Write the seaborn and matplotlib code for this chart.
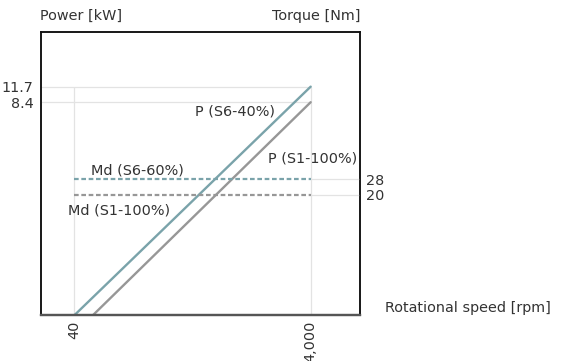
import numpy as np
import pandas as pd
import matplotlib
matplotlib.use("Agg")
import matplotlib.pyplot as plt
import seaborn as sns

# ---- data ----
speed_ticks = [40, 4000]
speed_tick_labels = ["40", "4,000"]

p_s6_speed = [40, 4000]
p_s6_power = [0.0, 11.7]
p_s1_speed = [350, 4000]
p_s1_power = [0.0, 8.4]

md_s6_speed = [40, 4000]
md_s6_torque = [28, 28]
md_s1_speed = [40, 4000]
md_s1_torque = [20, 20]

power_ticks = [11.7, 8.4]
power_tick_labels = ["11.7", "8.4"]
torque_ticks = [28, 20]
torque_tick_labels = ["28", "20"]

series_labels = ["P (S6-40%)", "P (S1-100%)", "Md (S6-60%)", "Md (S1-100%)"]

# ---- style ----
sns.set_theme(style="white")
plt.rcParams["font.family"] = ["DejaVu Sans"]
TXT = "#333333"
TEAL = "#7AA3AA"
GREY = "#979797"
GRID = "#e3e3e3"
FS = 10.4

fig = plt.figure(figsize=(5.67, 3.61), dpi=100)
ax = fig.add_axes([40.7 / 567, (361 - 315.3) / 361, 319.3 / 567, 283 / 361])

# schematic (piecewise) power scale
anch_v = [0.0, 8.4, 11.7, 15.0]
anch_p = [0.0, 0.753, 0.808, 1.0]
fwd = lambda v: np.interp(v, anch_v, anch_p)
inv = lambda p: np.interp(p, anch_p, anch_v)
ax.set_yscale("function", functions=(fwd, inv))
ax.set_xlim(-523, 4826)
ax.set_ylim(0, 15.0)

ax2 = ax.twinx()
ax2.set_ylim(-42.4, 103.8)

# reference lines
ax.vlines(speed_ticks, 0, max(power_ticks), color=GRID, lw=0.9, zorder=0)
ax.hlines(power_ticks, -523, max(speed_ticks), color=GRID, lw=0.9, zorder=0)
ax2.hlines(torque_ticks, max(speed_ticks), 4826, color=GRID, lw=0.9, zorder=0)

df_p6 = pd.DataFrame({"speed": p_s6_speed, "power": p_s6_power})
df_p1 = pd.DataFrame({"speed": p_s1_speed, "power": p_s1_power})
sns.lineplot(data=df_p6, x="speed", y="power", ax=ax, color=TEAL, lw=1.7)
sns.lineplot(data=df_p1, x="speed", y="power", ax=ax, color=GREY, lw=1.7)

df_m6 = pd.DataFrame({"speed": md_s6_speed, "torque": md_s6_torque})
df_m1 = pd.DataFrame({"speed": md_s1_speed, "torque": md_s1_torque})
sns.lineplot(data=df_m6, x="speed", y="torque", ax=ax2, color=TEAL, lw=1.6,
             linestyle=(0, (2.1, 1.2)))
sns.lineplot(data=df_m1, x="speed", y="torque", ax=ax2, color=GREY, lw=1.6,
             linestyle=(0, (2.1, 1.2)))

# ticks
ax.set_xticks(speed_ticks)
ax.set_xticklabels(speed_tick_labels, rotation=90, fontsize=FS, color=TXT)
ax.set_yticks(power_ticks)
ax.set_yticklabels(power_tick_labels, fontsize=FS, color=TXT)
ax.yaxis.set_minor_locator(matplotlib.ticker.NullLocator())
ax2.set_yticks(torque_ticks)
ax2.set_yticklabels(torque_tick_labels, fontsize=FS, color=TXT)
for a in (ax, ax2):
    a.tick_params(length=0, pad=4)
    a.set_xlabel("")
    a.set_ylabel("")
ax.tick_params(axis="y", pad=5, labelleft=True, left=False)
ax.tick_params(axis="x", pad=4, bottom=False)

for a in (ax, ax2):
    for s in a.spines.values():
        s.set_color("#111111")
        s.set_linewidth(1.1)
    a.spines["bottom"].set_color("#555555")
    a.spines["bottom"].set_linewidth(1.6)

# series labels
ax.text(0.734, 0.719, series_labels[0], transform=ax.transAxes, ha="right",
        va="center", fontsize=FS, color=TXT)
ax.text(0.991, 0.553, series_labels[1], transform=ax.transAxes, ha="right",
        va="center", fontsize=FS, color=TXT)
ax.text(0.158, 0.513, series_labels[2], transform=ax.transAxes, ha="left",
        va="center", fontsize=FS, color=TXT)
ax.text(0.086, 0.372, series_labels[3], transform=ax.transAxes, ha="left",
        va="center", fontsize=FS, color=TXT)

# axis titles
fig.text(40 / 567, 1 - 16 / 361, "Power [kW]", ha="left", va="center",
         fontsize=FS, color=TXT)
fig.text(360 / 567, 1 - 16 / 361, "Torque [Nm]", ha="right", va="center",
         fontsize=FS, color=TXT)
fig.text(385 / 567, 1 - 308 / 361, "Rotational speed [rpm]", ha="left",
         va="center", fontsize=FS, color=TXT)

fig.savefig("out.png", dpi=100)
